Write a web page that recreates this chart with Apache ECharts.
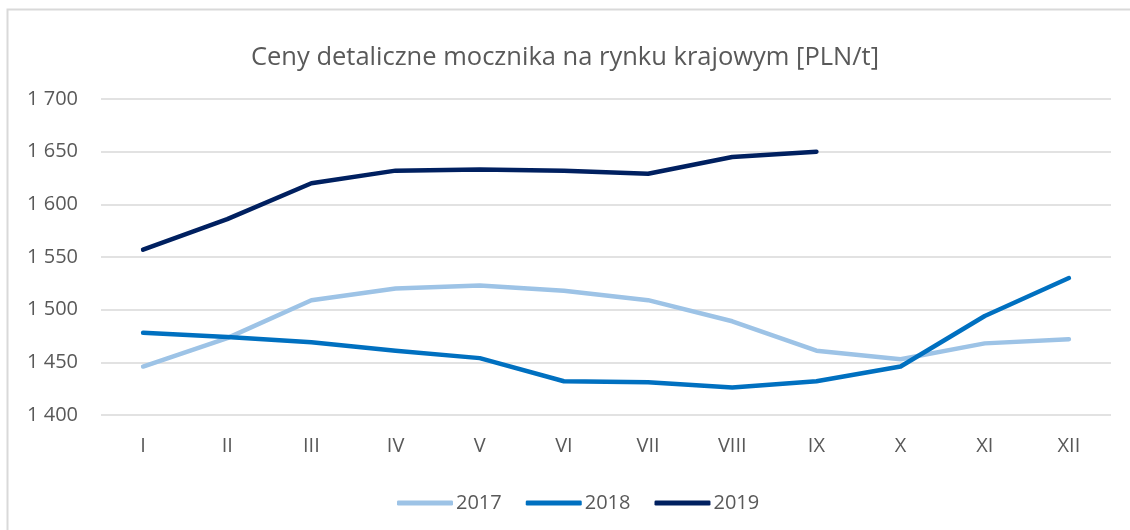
<!DOCTYPE html>
<html>
<head>
<meta charset="utf-8">
<script src="https://cdn.jsdelivr.net/npm/echarts@6/dist/echarts.min.js"></script>
<style>
html,body{margin:0;padding:0;background:#fff;}
#c{width:1130px;height:530px;}
</style>
</head>
<body>
<div id="c"></div>
<script>
const categories = ['I','II','III','IV','V','VI','VII','VIII','IX','X','XI','XII'];
const seriesNames = ['2017','2018','2019'];
const values2017 = [1446, 1473, 1509, 1520, 1523, 1518, 1509, 1489, 1461, 1453, 1468, 1472];
const values2018 = [1478, 1474, 1469, 1461, 1454, 1432, 1431, 1426, 1432, 1446, 1494, 1530];
const values2019 = [1557, 1586, 1620, 1632, 1633, 1632, 1629, 1645, 1650, null, null, null];
const yTicks = {min: 1400, max: 1700, interval: 50};
const titleText = 'Ceny detaliczne mocznika na rynku krajowym [PLN/t]';

const colors = ['#9DC3E6', '#0070C0', '#002060'];
const font = 'Open Sans';
const chart = echarts.init(document.getElementById('c'), null, {renderer: 'canvas'});
const dataSets = [values2017, values2018, values2019];

chart.setOption({
  animation: false,
  backgroundColor: '#fff',
  graphic: [{
    type: 'rect',
    shape: {x: 7.5, y: 9.5, width: 1200, height: 600},
    style: {fill: 'none', stroke: '#d9d9d9', lineWidth: 2},
    silent: true
  }],
  title: {
    text: titleText,
    left: 'center',
    top: 40,
    textStyle: {fontFamily: font, fontSize: 25.5, fontWeight: 'normal', color: '#595959'}
  },
  legend: {
    data: seriesNames,
    bottom: 12,
    left: 392,
    itemWidth: 56,
    itemHeight: 5,
    itemGap: 24,
    icon: 'roundRect',
    textStyle: {fontFamily: font, fontSize: 20, color: '#595959', padding: [0, 0, 0, -2]}
  },
  grid: {left: 101, right: 19, top: 99, bottom: 115},
  xAxis: {
    type: 'category',
    data: categories,
    boundaryGap: true,
    axisLine: {show: false},
    axisTick: {show: false},
    axisLabel: {fontFamily: font, fontSize: 20, color: '#595959', margin: 21}
  },
  yAxis: {
    type: 'value',
    min: yTicks.min,
    max: yTicks.max,
    interval: yTicks.interval,
    axisLine: {show: false},
    axisTick: {show: false},
    splitLine: {lineStyle: {color: '#d9d9d9', width: 1.5}},
    axisLabel: {
      fontFamily: font, fontSize: 20, color: '#595959', margin: 23,
      formatter: v => String(v).replace(/\B(?=(\d{3})+(?!\d))/g, ' ')
    }
  },
  series: seriesNames.map((n, i) => ({
    name: n,
    type: 'line',
    data: dataSets[i],
    symbol: 'none',
    showSymbol: false,
    connectNulls: false,
    itemStyle: {color: colors[i]},
    lineStyle: {color: colors[i], width: 4.5, cap: 'round', join: 'round'}
  }))
});
</script>
</body>
</html>
